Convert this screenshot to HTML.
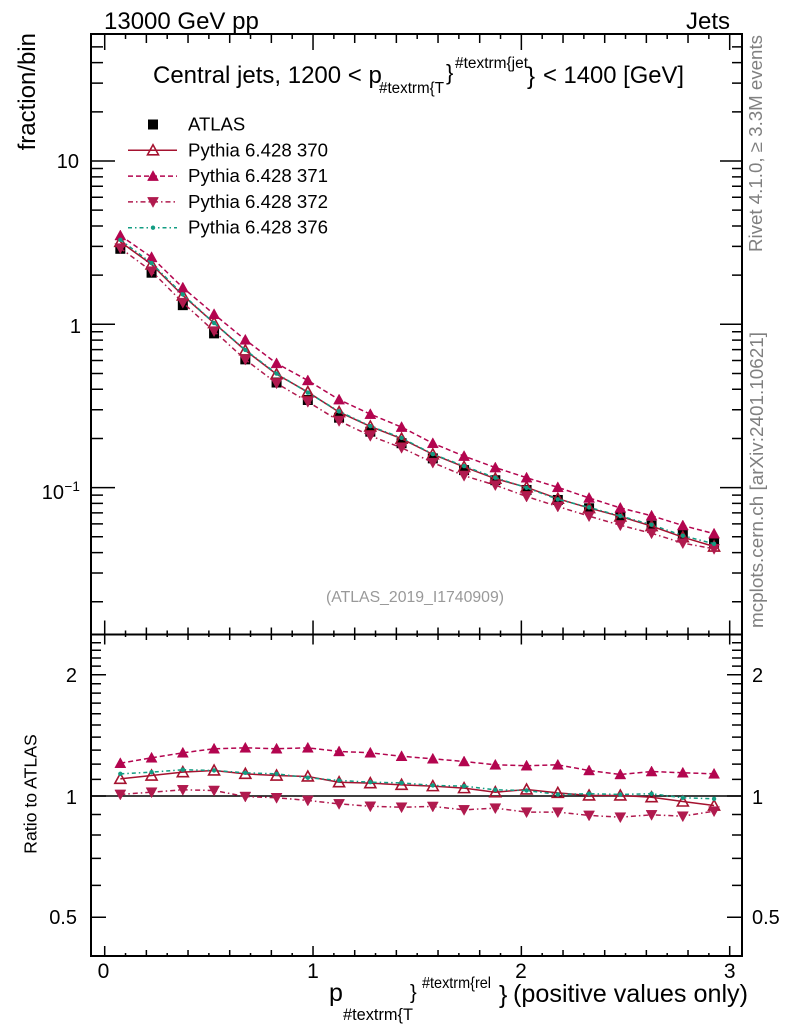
<!DOCTYPE html>
<html><head><meta charset="utf-8"><style>
html,body{margin:0;padding:0;background:#fff;}
svg{display:block;}
text{font-family:"Liberation Sans",Arial,sans-serif;}
</style></head><body>
<svg id="s" width="786" height="1024" viewBox="0 0 786 1024" xmlns="http://www.w3.org/2000/svg">
<rect width="786" height="1024" fill="#fff"/>
<path id="ticks" d="" stroke="#000" stroke-width="1.5" fill="none"/>
<line x1="91" y1="796" x2="742" y2="796" stroke="#000" stroke-width="1.5"/>
<g id="data"></g>
<rect x="91" y="34" width="651" height="600.5" fill="none" stroke="#000" stroke-width="2"/>
<rect x="91" y="634.5" width="651" height="321.5" fill="none" stroke="#000" stroke-width="2"/>

<text x="104" y="29" font-size="24">13000 GeV pp</text>
<text x="730" y="29" font-size="24" text-anchor="end">Jets</text>

<text x="153" y="83" font-size="24">Central jets, 1200 &lt; p</text>
<text x="379" y="93" font-size="15.5" textLength="65" lengthAdjust="spacingAndGlyphs">#textrm{T</text>
<text x="446" y="80" font-size="22">}</text>
<text x="455" y="68" font-size="15.5" textLength="73" lengthAdjust="spacingAndGlyphs">#textrm{jet</text>
<text x="527" y="84" font-size="24">}</text>
<text x="543" y="83" font-size="24" textLength="141" lengthAdjust="spacingAndGlyphs">&lt; 1400 [GeV]</text>

<text transform="translate(35,33) rotate(-90)" font-size="24" text-anchor="end">fraction/bin</text>
<text transform="translate(36.5,794) rotate(-90)" font-size="17.7" text-anchor="middle">Ratio to ATLAS</text>

<text transform="translate(762,252) rotate(-90)" font-size="18.5" fill="#808080" textLength="217" lengthAdjust="spacingAndGlyphs">Rivet 4.1.0, ≥ 3.3M events</text>
<text transform="translate(763,628) rotate(-90)" font-size="18.5" fill="#808080" textLength="296" lengthAdjust="spacingAndGlyphs">mcplots.cern.ch [arXiv:2401.10621]</text>

<text x="326" y="602" font-size="16" fill="#999" textLength="178" lengthAdjust="spacingAndGlyphs">(ATLAS_2019_I1740909)</text>

<!-- legend text -->
<text x="188" y="130.5" font-size="18.5">ATLAS</text>
<text x="188" y="156.3" font-size="18.5" textLength="140" lengthAdjust="spacingAndGlyphs">Pythia 6.428 370</text>
<text x="188" y="182.1" font-size="18.5" textLength="140" lengthAdjust="spacingAndGlyphs">Pythia 6.428 371</text>
<text x="188" y="207.9" font-size="18.5" textLength="140" lengthAdjust="spacingAndGlyphs">Pythia 6.428 372</text>
<text x="188" y="233.7" font-size="18.5" textLength="140" lengthAdjust="spacingAndGlyphs">Pythia 6.428 376</text>

<!-- y tick labels main -->
<text x="79" y="168" font-size="20" text-anchor="end">10</text>
<text x="81" y="333" font-size="20" text-anchor="end">1</text>
<text x="64" y="499" font-size="20" text-anchor="end">10</text>
<text x="64.5" y="491" font-size="13.5">−1</text>

<!-- ratio labels -->
<text x="77" y="682" font-size="20" text-anchor="end">2</text>
<text x="77" y="804" font-size="20" text-anchor="end">1</text>
<text x="77" y="924" font-size="20" text-anchor="end">0.5</text>
<text x="752" y="682" font-size="20">2</text>
<text x="752" y="804" font-size="20">1</text>
<text x="752" y="924" font-size="20">0.5</text>

<!-- x tick labels -->
<text x="103.5" y="978" font-size="21" text-anchor="middle">0</text>
<text x="313" y="978" font-size="21" text-anchor="middle">1</text>
<text x="521" y="978" font-size="21" text-anchor="middle">2</text>
<text x="729.7" y="978" font-size="21" text-anchor="middle">3</text>

<!-- x axis title -->
<text x="329" y="1001" font-size="25">p</text>
<text x="343" y="1020" font-size="16.5" textLength="70" lengthAdjust="spacingAndGlyphs">#textrm{T</text>
<text x="410" y="999" font-size="20">}</text>
<text x="422" y="988" font-size="16" textLength="69" lengthAdjust="spacingAndGlyphs">#textrm{rel</text>
<text x="499" y="1003" font-size="25">}</text>
<text x="513" y="1002" font-size="25" textLength="235" lengthAdjust="spacingAndGlyphs">(positive values only)</text>
</svg>
<script>
(function(){
const NS="http://www.w3.org/2000/svg";
function el(p,tag,a){const e=document.createElementNS(NS,tag);for(const k in a)e.setAttribute(k,a[k]);p.appendChild(e);return e;}
const X=v=>104.7+208.33*v;
const Ym=v=>324.3-163.3*Math.log10(v);
const Yr=r=>796-402.9*Math.log10(r);
let d='';
function ln(x1,y1,x2,y2){d+='M'+x1.toFixed(2)+' '+y1.toFixed(2)+'L'+x2.toFixed(2)+' '+y2.toFixed(2);}
for(let i=0;i<=30;i++){const x=X(i/10);const maj=i%10==0,med=i%2==0;
 ln(x,34,x,34+(maj?16:med?9:5));
 ln(x,634.5,x,634.5-(maj?14:med?7:4));
 ln(x,634.5,x,634.5+(maj?10:med?5.5:2.5));
 ln(x,956,x,956-(maj?10:med?6:3));
}
for(let e=-2;e<=1;e++){for(let m=1;m<=9;m++){const v=m*Math.pow(10,e);if(v<0.0127||v>59)continue;const y=Ym(v);const maj=m==1;
 ln(91,y,91+(maj?24:12),y);ln(742,y,742-(maj?22:10),y);}}
const rv=[];for(let k=5;k<=24;k++)rv.push(k/10);
rv.forEach(r=>{const y=Yr(r);const maj=(Math.abs(r-0.5)<1e-6||Math.abs(r-1)<1e-6||Math.abs(r-2)<1e-6);
 ln(91,y,91+(maj?15:10),y);ln(742,y,742-(maj?15:10),y);});
document.getElementById('ticks').setAttribute('d',d);

const atlas=[2.9,2.07,1.31,0.88,0.61,0.44,0.344,0.268,0.22,0.187,0.151,0.128,0.111,0.0967,0.084,0.0747,0.0664,0.0585,0.0513,0.046];
const r370=[1.103,1.124,1.146,1.157,1.135,1.124,1.118,1.082,1.076,1.066,1.058,1.046,1.022,1.038,1.018,1.003,1.003,0.993,0.969,0.947];
const r371=[1.206,1.244,1.280,1.31,1.317,1.31,1.317,1.29,1.28,1.255,1.237,1.218,1.195,1.189,1.195,1.157,1.131,1.15,1.142,1.135];
const r372=[1.009,1.022,1.036,1.032,0.997,0.99,0.975,0.956,0.943,0.938,0.942,0.924,0.933,0.912,0.912,0.895,0.886,0.898,0.891,0.917];
const r376=[1.135,1.146,1.162,1.157,1.142,1.135,1.11,1.093,1.082,1.078,1.062,1.058,1.036,1.032,1.009,1.013,1.009,1.013,0.99,0.984];
const xs=atlas.map((_,i)=>0.075+0.15*i);
const G=document.getElementById('data');
const C370="#a5122f",C371="#b3054f",C372="#b01a4e",C376="#129c82";
function poly(pts,col,dash){el(G,'polyline',{points:pts.map(p=>p[0].toFixed(2)+','+p[1].toFixed(2)).join(' '),fill:'none',stroke:col,'stroke-width':1.5,'stroke-dasharray':dash||'none'});}
function sq(x,y){el(G,'rect',{x:x-5,y:y-5,width:10,height:10,fill:'#000'});}
function tu(x,y,col,open){el(G,'polygon',{points:`${x},${y-5.5} ${x-5.5},${y+4.5} ${x+5.5},${y+4.5}`,fill:open?'none':col,stroke:col,'stroke-width':open?1.6:0.5});}
function td(x,y,col){el(G,'polygon',{points:`${x},${y+5.5} ${x-5.5},${y-4.5} ${x+5.5},${y-4.5}`,fill:col,stroke:col,'stroke-width':0.5});}
function dot(x,y,col){el(G,'circle',{cx:x,cy:y,r:2.2,fill:col});}
const series=[
 {r:r370,c:C370,dash:null,m:(x,y)=>tu(x,y,C370,true)},
 {r:r371,c:C371,dash:'5,3',m:(x,y)=>tu(x,y,C371,false)},
 {r:r372,c:C372,dash:'5,3,1.5,3',m:(x,y)=>td(x,y,C372)},
 {r:r376,c:C376,dash:'4,3,1.5,3',m:(x,y)=>dot(x,y,C376)}
];
xs.forEach((x,i)=>sq(X(x),Ym(atlas[i])));
series.forEach(s=>{
 const pts=xs.map((x,i)=>[X(x),Ym(atlas[i]*s.r[i])]);
 poly(pts,s.c,s.dash);pts.forEach(p=>s.m(p[0],p[1]));
});
series.forEach(s=>{
 const pts=xs.map((x,i)=>[X(x),Yr(s.r[i])]);
 poly(pts,s.c,s.dash);pts.forEach(p=>s.m(p[0],p[1]));
});
sq(153,124.5);
const rows=[150.3,176.1,201.9,227.7];
series.forEach((s,k)=>{const y=rows[k];
 el(G,'line',{x1:128,y1:y,x2:177,y2:y,stroke:s.c,'stroke-width':1.5,'stroke-dasharray':s.dash||'none'});
 s.m(153,y);});
})();
</script>
</body></html>
